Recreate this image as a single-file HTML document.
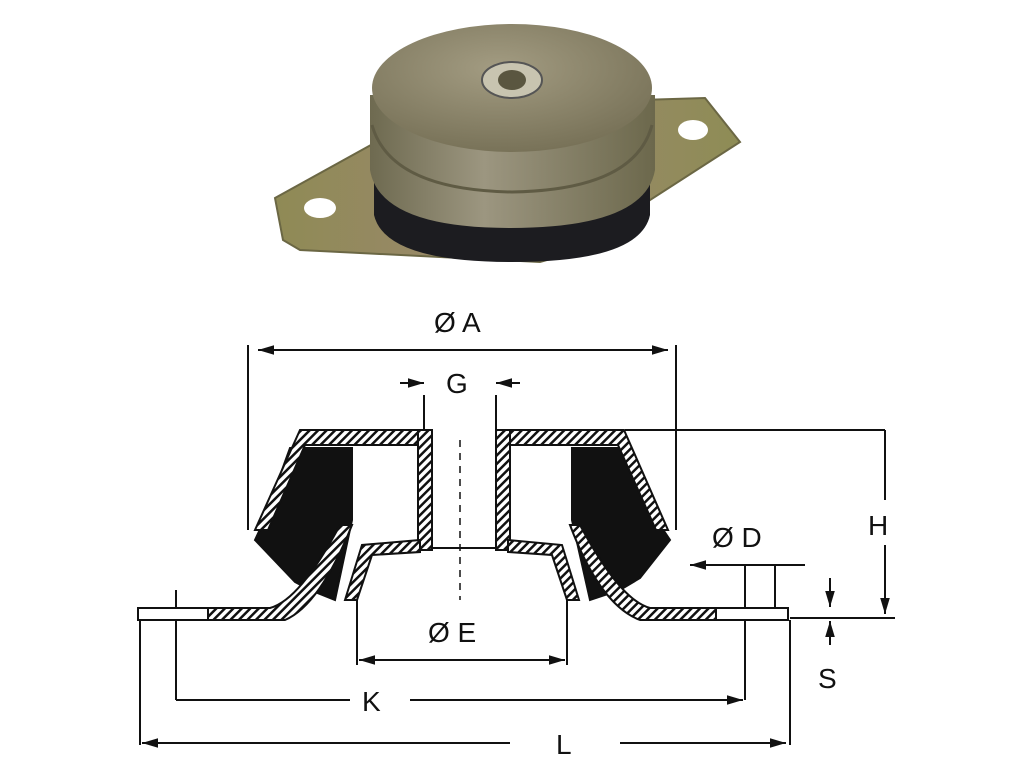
<!DOCTYPE html>
<html><head><meta charset="utf-8"><style>
html,body{margin:0;padding:0;background:#fff;width:1024px;height:768px;overflow:hidden}
svg{display:block}
text{font-family:"Liberation Sans",sans-serif;font-size:28px;fill:#111}
</style></head><body>
<svg width="1024" height="768" viewBox="0 0 1024 768">
<defs>
<pattern id="h" width="6" height="6" patternUnits="userSpaceOnUse" patternTransform="rotate(45)">
<rect width="6" height="6" fill="#fff"/><rect width="2.5" height="6" fill="#111"/></pattern>
<radialGradient id="drum" cx="0.45" cy="0.35" r="0.75"><stop offset="0" stop-color="#a39c82"/><stop offset="1" stop-color="#726c52"/></radialGradient>
<linearGradient id="side" x1="0" y1="0" x2="1" y2="0"><stop offset="0" stop-color="#6e6a50"/><stop offset="0.4" stop-color="#9c9680"/><stop offset="1" stop-color="#6c684c"/></linearGradient>
<linearGradient id="plate" x1="0" y1="0" x2="1" y2="0"><stop offset="0" stop-color="#8f8a55"/><stop offset="0.5" stop-color="#9c8870"/><stop offset="1" stop-color="#8e8c55"/></linearGradient>
<marker id="a" viewBox="0 0 10 10" refX="10" refY="5" markerWidth="8" markerHeight="8" orient="auto-start-reverse"><path d="M0,2 L10,5 L0,8z" fill="#111"/></marker>
</defs>
<!-- photo -->
<polygon points="275,198 380,140 640,100 705,98 740,142 650,200 600,245 540,262 300,250 283,240" fill="url(#plate)" stroke="#6b6744" stroke-width="2"/>
<ellipse cx="320" cy="208" rx="16" ry="10" fill="#fff"/>
<ellipse cx="693" cy="130" rx="15" ry="10" fill="#fff"/>
<path d="M374,150 L374,215 Q385,262 512,262 Q640,262 650,215 L650,150 Z" fill="#1c1c20"/>
<path d="M370,95 L370,170 Q380,228 510,228 Q645,228 655,170 L655,95 Z" fill="url(#side)"/>
<ellipse cx="512" cy="88" rx="140" ry="64" fill="url(#drum)"/>
<path d="M372,125 Q390,190 512,192 Q635,190 652,125" fill="none" stroke="#5f5b44" stroke-width="3"/>
<ellipse cx="512" cy="80" rx="30" ry="18" fill="#c8c4b0" stroke="#555" stroke-width="2"/>
<ellipse cx="512" cy="80" rx="14" ry="10" fill="#5a5640"/>
<!-- drawing: dims -->
<g stroke="#111" stroke-width="2" fill="none">
<line x1="248" y1="345" x2="248" y2="530"/><line x1="676" y1="345" x2="676" y2="530"/>
<line x1="258" y1="350" x2="668" y2="350" marker-start="url(#a)" marker-end="url(#a)"/>
<line x1="424" y1="395" x2="424" y2="430"/><line x1="496" y1="395" x2="496" y2="430"/>
<line x1="400" y1="383" x2="424" y2="383" marker-end="url(#a)"/><line x1="520" y1="383" x2="496" y2="383" marker-end="url(#a)"/>
<line x1="625" y1="430" x2="885" y2="430"/><line x1="885" y1="430" x2="885" y2="500"/>
<line x1="885" y1="545" x2="885" y2="614" marker-end="url(#a)"/>
<line x1="790" y1="618" x2="895" y2="618"/>
<line x1="690" y1="565" x2="805" y2="565" marker-start="url(#a)"/>
<line x1="745" y1="565" x2="745" y2="700"/><line x1="775" y1="565" x2="775" y2="610"/>
<line x1="830" y1="578" x2="830" y2="607" marker-end="url(#a)"/><line x1="830" y1="645" x2="830" y2="621" marker-end="url(#a)"/>
<line x1="357" y1="600" x2="357" y2="665"/><line x1="567" y1="600" x2="567" y2="665"/>
<line x1="359" y1="660" x2="565" y2="660" marker-start="url(#a)" marker-end="url(#a)"/>
<line x1="176" y1="590" x2="176" y2="700"/>
<line x1="176" y1="700" x2="350" y2="700"/><line x1="410" y1="700" x2="743" y2="700" marker-end="url(#a)"/>
<line x1="140" y1="620" x2="140" y2="745"/><line x1="790" y1="620" x2="790" y2="745"/>
<line x1="142" y1="743" x2="510" y2="743" marker-start="url(#a)"/><line x1="620" y1="743" x2="786" y2="743" marker-end="url(#a)"/>
<line x1="460" y1="440" x2="460" y2="600" stroke-dasharray="7,6" stroke-width="1.5"/>
</g>
<!-- drawing: body -->
<g stroke="#111" stroke-width="2">
<path d="M290,448 L352,448 L352,520 L335,600 L310,590 L295,582 L255,540 L262,525 Z" fill="#111"/>
<path d="M630,448 L572,448 L572,520 L590,600 L620,590 L640,578 L670,540 L660,525 Z" fill="#111"/>
<path d="M300,430 L422,430 L422,445 L305,445 L268,530 L255,530 Z" fill="url(#h)"/>
<path d="M624,430 L500,430 L500,445 L618,445 L656,530 L668,530 Z" fill="url(#h)"/>
<rect x="418" y="430" width="14" height="120" fill="url(#h)"/>
<rect x="496" y="430" width="14" height="120" fill="url(#h)"/>
<path d="M138,608 L270,608 Q300,600 340,525 L352,525 Q320,605 285,620 L138,620 Z" fill="url(#h)"/>
<path d="M786,608 L650,608 Q620,600 580,525 L570,525 Q600,605 640,620 L786,620 Z" fill="url(#h)"/>
<path d="M345,600 L362,545 L420,540 L420,552 L372,555 L357,600 Z" fill="url(#h)"/>
<path d="M579,600 L562,545 L508,540 L508,552 L552,555 L567,600 Z" fill="url(#h)"/>
<rect x="138" y="608" width="70" height="12" fill="#fff"/>
<rect x="716" y="608" width="72" height="12" fill="#fff"/>
<line x1="432" y1="548" x2="496" y2="548"/>
</g>
<!-- labels -->
<text x="434" y="332">Ø A</text>
<text x="446" y="393">G</text>
<text x="868" y="535">H</text>
<text x="712" y="547">Ø D</text>
<text x="818" y="688">S</text>
<text x="428" y="642">Ø E</text>
<text x="362" y="711">K</text>
<text x="556" y="754">L</text>
</svg>
</body></html>
